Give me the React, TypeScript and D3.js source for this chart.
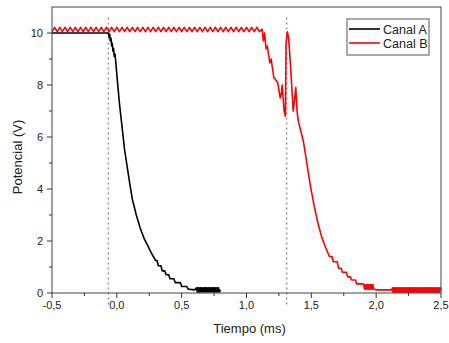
import React, { useMemo } from 'react';
import * as d3 from 'd3';

// Canal A: time (ms), voltage (V)
const canalA: [number, number][] = [
  [-0.5, 10.0], [-0.065, 10.0], [-0.06, 9.85], [-0.055, 9.95], [-0.05, 9.7],
  [-0.045, 9.8], [-0.04, 9.5], [-0.035, 9.6], [-0.03, 9.3], [-0.025, 9.4],
  [-0.02, 9.1], [-0.015, 9.2], [-0.01, 9.0], [0.0, 8.4], [0.02, 7.3],
  [0.04, 6.4], [0.06, 5.5], [0.08, 4.85], [0.1, 4.2], [0.12, 3.6],
  [0.15, 3.0], [0.18, 2.5], [0.21, 2.1], [0.24, 1.8], [0.27, 1.5],
  [0.3, 1.25], [0.31, 1.25], [0.32, 1.05], [0.34, 1.05], [0.35, 0.85],
  [0.37, 0.85], [0.38, 0.7], [0.4, 0.7], [0.41, 0.55], [0.44, 0.55],
  [0.45, 0.4], [0.49, 0.4], [0.5, 0.25], [0.54, 0.25], [0.55, 0.15],
  [0.6, 0.12], [0.615, 0.2], [0.62, 0.04], [0.625, 0.2], [0.63, 0.04],
  [0.635, 0.2], [0.64, 0.04], [0.645, 0.2], [0.65, 0.04], [0.655, 0.2],
  [0.66, 0.04], [0.665, 0.2], [0.67, 0.04], [0.675, 0.2], [0.68, 0.04],
  [0.685, 0.2], [0.69, 0.04], [0.695, 0.2], [0.7, 0.04], [0.705, 0.2],
  [0.71, 0.04], [0.715, 0.2], [0.72, 0.04], [0.725, 0.2], [0.73, 0.04],
  [0.735, 0.2], [0.74, 0.04], [0.745, 0.2], [0.75, 0.04], [0.755, 0.2],
  [0.76, 0.04], [0.765, 0.2], [0.77, 0.04], [0.775, 0.2], [0.78, 0.04],
  [0.785, 0.2], [0.79, 0.04], [0.8, 0.12]
];

// Canal B: time (ms), voltage (V)
const canalB: [number, number][] = [
  [-0.5, 10.05], [-0.48, 10.22], [-0.46, 10.05], [-0.44, 10.22], [-0.42, 10.05],
  [-0.4, 10.22], [-0.38, 10.05], [-0.36, 10.22], [-0.34, 10.05], [-0.32, 10.22],
  [-0.3, 10.05], [-0.28, 10.22], [-0.26, 10.05], [-0.24, 10.22], [-0.22, 10.05],
  [-0.2, 10.22], [-0.18, 10.05], [-0.16, 10.22], [-0.14, 10.05], [-0.12, 10.22],
  [-0.1, 10.05], [-0.08, 10.22], [-0.06, 10.05], [-0.04, 10.22], [-0.02, 10.05],
  [0.0, 10.22], [0.02, 10.05], [0.04, 10.22], [0.06, 10.05], [0.08, 10.22],
  [0.1, 10.05], [0.12, 10.22], [0.14, 10.05], [0.16, 10.22], [0.18, 10.05],
  [0.2, 10.22], [0.22, 10.05], [0.24, 10.22], [0.26, 10.05], [0.28, 10.22],
  [0.3, 10.05], [0.32, 10.22], [0.34, 10.05], [0.36, 10.22], [0.38, 10.05],
  [0.4, 10.22], [0.42, 10.05], [0.44, 10.22], [0.46, 10.05], [0.48, 10.22],
  [0.5, 10.05], [0.52, 10.22], [0.54, 10.05], [0.56, 10.22], [0.58, 10.05],
  [0.6, 10.22], [0.62, 10.05], [0.64, 10.22], [0.66, 10.05], [0.68, 10.22],
  [0.7, 10.05], [0.72, 10.22], [0.74, 10.05], [0.76, 10.22], [0.78, 10.05],
  [0.8, 10.22], [0.82, 10.05], [0.84, 10.22], [0.86, 10.05], [0.88, 10.22],
  [0.9, 10.05], [0.92, 10.22], [0.94, 10.05], [0.96, 10.22], [0.98, 10.05],
  [1.0, 10.22], [1.02, 10.05], [1.04, 10.22], [1.06, 10.05], [1.08, 10.22],
  [1.1, 10.05], [1.12, 10.15], [1.13, 9.7], [1.14, 10.0], [1.15, 9.4],
  [1.16, 9.5], [1.18, 8.85], [1.19, 9.0], [1.21, 8.3], [1.24, 8.1],
  [1.26, 7.5], [1.27, 7.7], [1.275, 8.0], [1.29, 7.0], [1.3, 6.8],
  [1.305, 9.6], [1.315, 10.05], [1.325, 9.8], [1.34, 8.7], [1.36, 7.0],
  [1.37, 7.4], [1.38, 7.9], [1.39, 7.0], [1.4, 6.6], [1.44, 5.8],
  [1.49, 4.2], [1.52, 3.4], [1.55, 2.7], [1.58, 2.15], [1.61, 1.75],
  [1.64, 1.4], [1.66, 1.4], [1.67, 1.2], [1.7, 1.2], [1.71, 0.95],
  [1.73, 0.95], [1.74, 0.8], [1.77, 0.8], [1.78, 0.62], [1.8, 0.62],
  [1.81, 0.5], [1.84, 0.5], [1.85, 0.35], [1.9, 0.35], [1.905, 0.3],
  [1.91, 0.15], [1.915, 0.32], [1.92, 0.15], [1.925, 0.32], [1.93, 0.15],
  [1.935, 0.32], [1.94, 0.15], [1.945, 0.32], [1.95, 0.15], [1.955, 0.32],
  [1.96, 0.15], [1.965, 0.32], [1.97, 0.15], [1.975, 0.32], [1.98, 0.15],
  [2.0, 0.12], [2.12, 0.12], [2.125, 0.2], [2.13, 0.03], [2.135, 0.2],
  [2.14, 0.03], [2.145, 0.2], [2.15, 0.03], [2.155, 0.2], [2.16, 0.03],
  [2.165, 0.2], [2.17, 0.03], [2.175, 0.2], [2.18, 0.03], [2.185, 0.2],
  [2.19, 0.03], [2.195, 0.2], [2.2, 0.03], [2.205, 0.2], [2.21, 0.03],
  [2.215, 0.2], [2.22, 0.03], [2.225, 0.2], [2.23, 0.03], [2.235, 0.2],
  [2.24, 0.03], [2.245, 0.2], [2.25, 0.03], [2.255, 0.2], [2.26, 0.03],
  [2.265, 0.2], [2.27, 0.03], [2.275, 0.2], [2.28, 0.03], [2.285, 0.2],
  [2.29, 0.03], [2.295, 0.2], [2.3, 0.03], [2.305, 0.2], [2.31, 0.03],
  [2.315, 0.2], [2.32, 0.03], [2.325, 0.2], [2.33, 0.03], [2.335, 0.2],
  [2.34, 0.03], [2.345, 0.2], [2.35, 0.03], [2.355, 0.2], [2.36, 0.03],
  [2.365, 0.2], [2.37, 0.03], [2.375, 0.2], [2.38, 0.03], [2.385, 0.2],
  [2.39, 0.03], [2.395, 0.2], [2.4, 0.03], [2.405, 0.2], [2.41, 0.03],
  [2.415, 0.2], [2.42, 0.03], [2.425, 0.2], [2.43, 0.03], [2.435, 0.2],
  [2.44, 0.03], [2.445, 0.2], [2.45, 0.03], [2.455, 0.2], [2.46, 0.03],
  [2.465, 0.2], [2.47, 0.03], [2.475, 0.2], [2.48, 0.03], [2.485, 0.2],
  [2.49, 0.03], [2.495, 0.2], [2.5, 0.1]
];

const markerTimes = [-0.065, 1.31];

const xTicks = [-0.5, 0, 0.5, 1, 1.5, 2, 2.5];
const xMinorTicks = [-0.25, 0.25, 0.75, 1.25, 1.75, 2.25];
const yTicks = [0, 2, 4, 6, 8, 10];
const yMinorTicks = [1, 3, 5, 7, 9];

const series = [
  { name: 'Canal A', color: '#000000', values: canalA },
  { name: 'Canal B', color: '#ff0000', values: canalB }
];

const width = 449;
const height = 343;
const margin = { top: 7, right: 8, bottom: 50, left: 52 };
const font = '"Liberation Sans", Arial, sans-serif';

const locale = d3.formatLocale({
  decimal: ',', thousands: '.', grouping: [3], currency: ['', ''], minus: '-'
});
const fmtX = locale.format('.1f');

const App = () => {
  const innerWidth = width - margin.left - margin.right;
  const innerHeight = height - margin.top - margin.bottom;

  const { xScale, yScale, line } = useMemo(() => {
    const xScale = d3.scaleLinear().domain([-0.5, 2.5]).range([0, innerWidth]);
    const yScale = d3.scaleLinear().domain([0, 11]).range([innerHeight, 0]);
    const line = d3.line<[number, number]>()
      .x(d => xScale(d[0]))
      .y(d => yScale(d[1]));
    return { xScale, yScale, line };
  }, [innerWidth, innerHeight]);

  return (
    <svg
      width={width}
      height={height}
      style={{ position: 'absolute', left: 0, top: 0, fontFamily: font, background: '#fff' }}
    >
      <g transform={`translate(${margin.left}, ${margin.top})`}>
        {/* Dashed markers */}
        {markerTimes.map(t => (
          <line
            key={`m-${t}`}
            x1={xScale(t)} x2={xScale(t)}
            y1={yScale(10.6)} y2={innerHeight + 12}
            stroke="#999" strokeWidth={1.5} strokeDasharray="2,3"
          />
        ))}

        {/* Series */}
        {series.map(s => (
          <path
            key={s.name}
            d={line(s.values) || ''}
            fill="none"
            stroke={s.color}
            strokeWidth={1.6}
            strokeLinejoin="round"
          />
        ))}

        {/* Frame */}
        <rect x={0} y={0} width={innerWidth} height={innerHeight} fill="none" stroke="#444" strokeWidth={1} />

        {/* X axis */}
        {xTicks.map(t => (
          <g key={`x-${t}`} transform={`translate(${xScale(t)}, ${innerHeight})`}>
            <line y1={0} y2={5} stroke="#333" />
            <text y={16} textAnchor="middle" fontSize={11} fill="#222">{fmtX(t)}</text>
          </g>
        ))}
        {xMinorTicks.map(t => (
          <line key={`xm-${t}`} x1={xScale(t)} x2={xScale(t)} y1={innerHeight} y2={innerHeight + 3} stroke="#333" />
        ))}

        {/* Y axis */}
        {yTicks.map(t => (
          <g key={`y-${t}`} transform={`translate(0, ${yScale(t)})`}>
            <line x1={0} x2={-5} stroke="#333" />
            <text x={-9} y={4} textAnchor="end" fontSize={11} fill="#222">{t}</text>
          </g>
        ))}
        {yMinorTicks.map(t => (
          <line key={`ym-${t}`} x1={0} x2={-3} y1={yScale(t)} y2={yScale(t)} stroke="#333" />
        ))}

        {/* Axis titles */}
        <text
          x={innerWidth / 2 + 3}
          y={innerHeight + 40}
          textAnchor="middle"
          fontSize={13}
          fill="#222"
        >
          Tiempo (ms)
        </text>
        <text
          transform={`translate(${-margin.left + 22}, ${innerHeight / 2 + 7}) rotate(-90)`}
          textAnchor="middle"
          fontSize={13}
          fill="#222"
        >
          Potencial (V)
        </text>

        {/* Legend */}
        <g transform={`translate(${innerWidth - 94}, 12)`}>
          <rect x={0} y={0} width={82} height={36} fill="#fff" stroke="#555" strokeWidth={1} />
          {series.map((s, i) => (
            <g key={`l-${s.name}`} transform={`translate(0, ${10 + i * 14})`}>
              <line x1={2} x2={33} y1={0} y2={0} stroke={s.color} strokeWidth={1.6} />
              <text x={36} y={4.5} fontSize={12.5} fill="#222">{s.name}</text>
            </g>
          ))}
        </g>
      </g>
    </svg>
  );
};

export default App;
